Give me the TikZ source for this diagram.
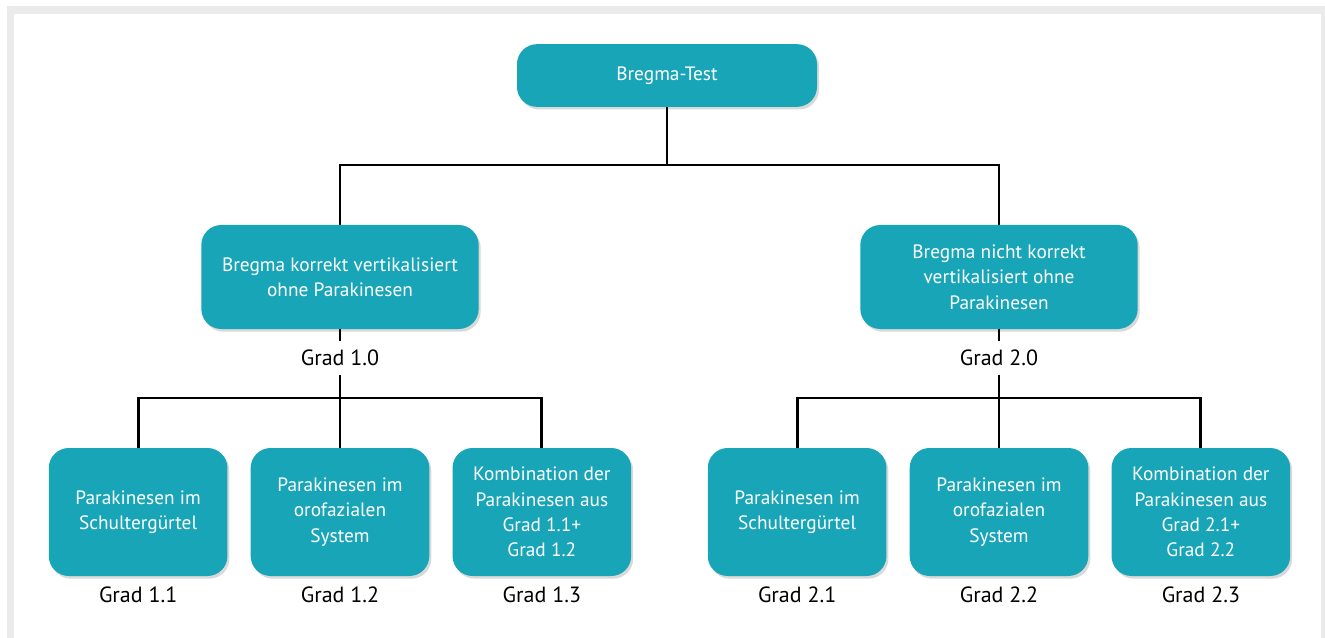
\documentclass[tikz,border=0pt]{standalone}
\usepackage{fontspec}
\setmainfont{PT Sans}
\usepackage{tikz}
\usetikzlibrary{positioning,shadows}
\definecolor{bregteal}{RGB}{24,165,184}
\definecolor{framegray}{RGB}{235,235,235}
\tikzset{
    topbox/.style = {rectangle, rounded corners=15pt, minimum width=225pt, minimum height=47pt, text centered, align=center, fill=bregteal, text=white, font=\fontsize{14.5}{19}\selectfont, drop shadow={opacity=0.3, shadow xshift=1.5pt, shadow yshift=-2pt}},
    midbox/.style = {topbox, minimum width=208pt, minimum height=78pt},
    leafbox/.style = {topbox, minimum width=134pt, minimum height=96pt},
    grade/.style = {rectangle, text height=12pt, text depth=0pt, minimum height=25pt, inner sep=2pt, font=\fontsize{16.5}{19}\selectfont},
    link/.style = {line width=2.2pt, black}
}

\begin{document}
\begin{tikzpicture}[x=0.75pt, y=-0.75pt]
\useasboundingbox (0,0) rectangle (1325,638);
\begin{scope}
\clip (0,0) rectangle (1325,638);
\draw [framegray, line width=5.3pt] (10.5,10) rectangle (1324.5,660);
\end{scope}

\node (top) [topbox] at (667,75.5) {Bregma-Test};
\node (left) [midbox] at (340,277) {Bregma korrekt vertikalisiert\\ohne Parakinesen};
\node (right) [midbox] at (999,277) {Bregma nicht korrekt\\vertikalisiert ohne\\Parakinesen};
\node (gleft) [grade, below=8.6pt of left] {Grad 1.0};
\node (gright) [grade, below=8.6pt of right] {Grad 2.0};

\node (l12) [leafbox] at (340,512) {Parakinesen im\\orofazialen\\System};
\node (l11) [leafbox, left=17pt of l12] {Parakinesen im\\Schultergürtel};
\node (l13) [leafbox, right=17pt of l12] {Kombination der\\Parakinesen aus\\Grad 1.1+\\Grad 1.2};
\node (l22) [leafbox] at (999,512) {Parakinesen im\\orofazialen\\System};
\node (l21) [leafbox, left=17pt of l22] {Parakinesen im\\Schultergürtel};
\node (l23) [leafbox, right=17pt of l22] {Kombination der\\Parakinesen aus\\Grad 2.1+\\Grad 2.2};

\node (g11) [grade, below=1pt of l11] {Grad 1.1};
\node (g12) [grade, below=1pt of l12] {Grad 1.2};
\node (g13) [grade, below=1pt of l13] {Grad 1.3};
\node (g21) [grade, below=1pt of l21] {Grad 2.1};
\node (g22) [grade, below=1pt of l22] {Grad 2.2};
\node (g23) [grade, below=1pt of l23] {Grad 2.3};

\coordinate (topjoin) at (667,165);
\path (left) ++(0,121) coordinate (leftjoin);
\path (right) ++(0,121) coordinate (rightjoin);

\draw [link] (top) -- (topjoin);
\draw [link] (left.north) |- (topjoin) -| (right.north);
\draw [link] (left) -- (gleft);
\draw [link] (gleft) -- (leftjoin);
\draw [link] (right) -- (gright);
\draw [link] (gright) -- (rightjoin);
\draw [link] (l11.north) |- (leftjoin) -| (l13.north);
\draw [link] (leftjoin) -- (l12);
\draw [link] (l21.north) |- (rightjoin) -| (l23.north);
\draw [link] (rightjoin) -- (l22);
\end{tikzpicture}
\end{document}
